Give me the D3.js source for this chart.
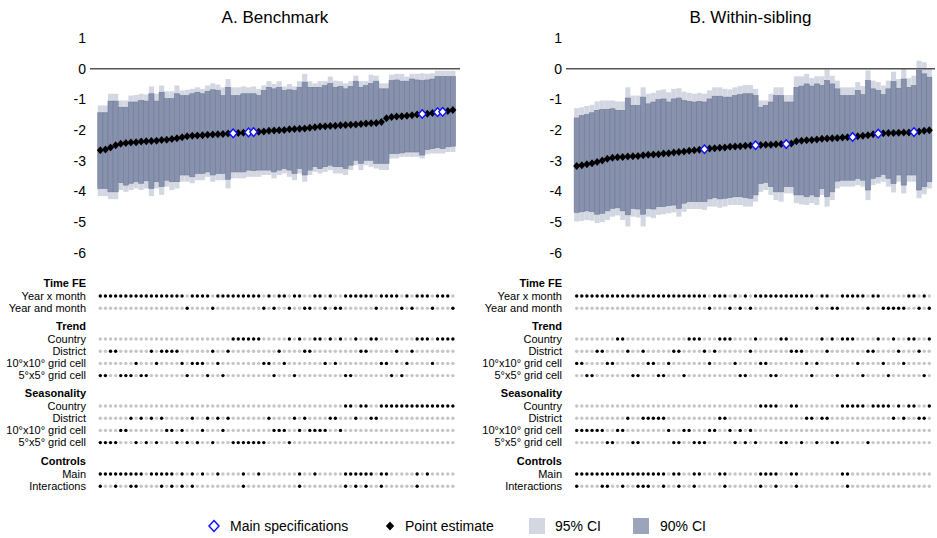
<!DOCTYPE html>
<html>
<head>
<meta charset="utf-8">
<script src="https://cdn.jsdelivr.net/npm/d3@7"></script>
<style>
  body { margin: 0; background: #fff; }
  svg { display: block; font-family: "Liberation Sans", Arial, Helvetica, sans-serif; }
</style>
</head>
<body>
<div id="chart"></div>
<script>
'use strict';

// ---- data ----
const yTicks = [1, 0, -1, -2, -3, -4, -5, -6];

// panel A: benchmark
const estA = [-2.66,-2.64,-2.57,-2.50,-2.45,-2.43,-2.41,-2.40,-2.38,-2.37,
  -2.36,-2.35,-2.33,-2.32,-2.30,-2.27,-2.24,-2.21,-2.19,-2.18,
  -2.17,-2.16,-2.15,-2.14,-2.13,-2.12,-2.11,-2.10,-2.09,-2.08,
  -2.07,-2.06,-2.05,-2.03,-2.02,-2.01,-2.00,-1.98,-1.97,-1.96,
  -1.95,-1.93,-1.91,-1.89,-1.88,-1.87,-1.86,-1.85,-1.84,-1.83,
  -1.82,-1.81,-1.79,-1.78,-1.77,-1.74,-1.62,-1.58,-1.56,-1.55,
  -1.54,-1.52,-1.50,-1.48,-1.47,-1.45,-1.42,-1.41,-1.38,-1.35];
const hi95A = [-1.20,-1.20,-0.82,-0.82,-1.04,-1.04,-0.88,-0.86,-0.82,-0.84,
  -0.58,-0.82,-0.55,-0.74,-0.74,-0.55,-0.71,-0.69,-0.66,-0.61,
  -0.66,-0.55,-0.48,-0.52,-0.61,-0.34,-0.61,-0.61,-0.58,-0.61,
  -0.58,-0.66,-0.55,-0.41,-0.50,-0.41,-0.58,-0.50,-0.58,-0.41,
  -0.17,-0.41,-0.48,-0.41,-0.41,-0.26,-0.39,-0.41,-0.48,-0.41,
  -0.23,-0.41,-0.41,-0.20,-0.23,-0.48,-0.48,-0.20,-0.17,-0.17,
  -0.26,-0.17,-0.17,-0.15,-0.17,-0.15,-0.07,-0.07,-0.07,-0.07];
const hi90A = [-1.44,-1.44,-1.06,-1.06,-1.26,-1.26,-1.09,-1.09,-1.04,-1.06,
  -0.82,-1.06,-0.77,-0.98,-0.98,-0.82,-0.88,-0.88,-0.82,-0.77,
  -0.82,-0.74,-0.69,-0.71,-0.88,-0.61,-0.88,-0.88,-0.82,-0.82,
  -0.82,-0.88,-0.71,-0.61,-0.66,-0.61,-0.71,-0.69,-0.71,-0.61,
  -0.44,-0.61,-0.61,-0.61,-0.55,-0.48,-0.61,-0.58,-0.66,-0.58,
  -0.41,-0.61,-0.55,-0.48,-0.41,-0.66,-0.66,-0.39,-0.37,-0.41,
  -0.41,-0.34,-0.37,-0.39,-0.37,-0.34,-0.26,-0.26,-0.26,-0.26];
const lo90A = [-3.91,-3.91,-4.02,-4.02,-3.72,-3.80,-3.74,-3.69,-3.74,-3.66,
  -3.91,-3.69,-3.85,-3.64,-3.69,-3.69,-3.47,-3.47,-3.53,-3.42,
  -3.42,-3.37,-3.47,-3.42,-3.42,-3.61,-3.37,-3.37,-3.37,-3.31,
  -3.33,-3.31,-3.31,-3.31,-3.37,-3.31,-3.26,-3.31,-3.42,-3.26,
  -3.47,-3.31,-3.20,-3.26,-3.20,-3.15,-3.20,-3.20,-3.26,-3.15,
  -2.99,-3.09,-2.99,-2.99,-3.09,-3.09,-3.09,-2.77,-2.77,-2.75,
  -2.72,-2.72,-2.72,-2.82,-2.64,-2.61,-2.58,-2.61,-2.55,-2.53];
const lo95A = [-4.16,-4.16,-4.26,-4.26,-3.96,-4.02,-3.96,-3.91,-3.96,-3.91,
  -4.16,-3.91,-4.12,-3.85,-3.96,-3.91,-3.69,-3.69,-3.74,-3.64,
  -3.64,-3.53,-3.69,-3.64,-3.64,-3.91,-3.58,-3.58,-3.58,-3.53,
  -3.53,-3.53,-3.47,-3.47,-3.58,-3.47,-3.42,-3.53,-3.64,-3.42,
  -3.69,-3.47,-3.37,-3.42,-3.37,-3.31,-3.42,-3.42,-3.47,-3.31,
  -3.15,-3.31,-3.15,-3.20,-3.26,-3.31,-3.31,-2.93,-2.93,-2.88,
  -2.88,-2.88,-2.88,-2.93,-2.79,-2.77,-2.77,-2.77,-2.72,-2.72];
const mainA = [26, 29, 30, 63, 66, 67];
// X = year x month, Y = year and month
const timeA  = 'XXXXXXXXXXXXXXXXXYXXXXYXXXXXXXXXYXYXXYXXYYXXYXYYXXXXXXYXXXXYXYXXXYXXXY';
// C = country, D = district, T = 10x10 grid cell, 5 = 5x5 grid cell
const trendA = '55DD555T55DTDDDDT5TTT5DT5DCCCCCCTT5DTC5CDDCCTCTC55CDDCCTT5D5TDCCCTCCCC';
const seasA  = '5555TTD5D5D5DTT5T5D5TD5DTD5555555DTTT5DTDTTTTDDTCCDCCDDCCCCCCCCCCCCCCC';
// 0 = none, 1 = main, 2 = main + interactions
const ctrlA  = '2112112210112120202010010000200100000002001000002121210210000020100000';

// panel B: within-sibling
const estB = [-3.18,-3.15,-3.12,-3.09,-3.05,-3.00,-2.94,-2.91,-2.89,-2.88,
  -2.87,-2.86,-2.85,-2.83,-2.81,-2.80,-2.79,-2.77,-2.76,-2.74,
  -2.72,-2.70,-2.68,-2.66,-2.65,-2.63,-2.61,-2.60,-2.58,-2.57,
  -2.55,-2.54,-2.53,-2.52,-2.51,-2.50,-2.49,-2.48,-2.48,-2.47,
  -2.46,-2.46,-2.44,-2.37,-2.35,-2.34,-2.33,-2.31,-2.29,-2.28,
  -2.27,-2.26,-2.25,-2.24,-2.23,-2.21,-2.19,-2.17,-2.14,-2.12,
  -2.11,-2.10,-2.10,-2.09,-2.08,-2.08,-2.07,-2.05,-2.03,-2.01];
const hi95B = [-1.29,-1.26,-1.22,-1.18,-1.07,-1.04,-1.04,-1.04,-1.07,-1.07,
  -0.61,-0.88,-0.88,-0.61,-0.82,-0.79,-0.71,-0.68,-0.77,-0.66,
  -0.64,-0.75,-0.79,-0.82,-0.79,-0.82,-0.71,-0.61,-0.61,-0.66,
  -0.68,-0.61,-0.57,-0.53,-0.53,-0.66,-1.04,-1.04,-0.82,-0.61,
  -0.61,-0.86,-0.86,-0.25,-0.25,-0.17,-0.31,-0.25,-0.25,-0.03,
  -0.23,-0.39,-0.61,-0.61,-0.61,-0.44,-0.57,-0.06,-0.39,-0.44,
  -0.55,-0.39,-0.10,-0.34,-0.01,-0.31,-0.23,0.26,0.21,0.01];
const hi90B = [-1.61,-1.53,-1.50,-1.44,-1.36,-1.33,-1.33,-1.31,-1.36,-1.36,
  -0.96,-1.20,-1.20,-0.93,-1.15,-1.09,-1.01,-0.99,-1.09,-0.99,
  -0.96,-1.04,-1.07,-1.09,-1.07,-1.09,-0.99,-0.90,-0.90,-0.93,
  -0.93,-0.88,-0.85,-0.82,-0.82,-0.88,-1.26,-1.20,-1.09,-0.88,
  -0.88,-1.09,-1.09,-0.61,-0.57,-0.50,-0.57,-0.50,-0.55,-0.39,
  -0.50,-0.66,-0.88,-0.88,-0.88,-0.71,-0.85,-0.39,-0.66,-0.71,
  -0.85,-0.66,-0.42,-0.64,-0.34,-0.61,-0.55,-0.06,-0.17,-0.28];
const lo90B = [-4.69,-4.67,-4.64,-4.67,-4.75,-4.72,-4.64,-4.56,-4.54,-4.64,
  -4.77,-4.56,-4.58,-4.75,-4.56,-4.58,-4.50,-4.50,-4.47,-4.45,
  -4.56,-4.39,-4.34,-4.34,-4.34,-4.34,-4.25,-4.21,-4.25,-4.23,
  -4.21,-4.18,-4.18,-4.21,-4.23,-4.12,-3.75,-3.71,-3.85,-4.02,
  -4.02,-3.85,-3.85,-4.12,-4.12,-4.18,-4.12,-4.18,-3.91,-4.18,
  -4.02,-3.67,-3.64,-3.64,-3.64,-3.58,-3.64,-3.96,-3.58,-3.53,
  -3.45,-3.58,-3.75,-3.47,-3.80,-3.47,-3.47,-3.96,-3.85,-3.69];
const lo95B = [-4.99,-4.97,-4.94,-4.96,-5.04,-5.01,-4.94,-4.83,-4.79,-4.94,
  -5.15,-4.83,-4.86,-5.15,-4.83,-4.88,-4.77,-4.75,-4.72,-4.69,
  -4.83,-4.67,-4.58,-4.58,-4.58,-4.61,-4.50,-4.50,-4.54,-4.50,
  -4.45,-4.45,-4.45,-4.50,-4.50,-4.34,-4.02,-3.96,-4.12,-4.29,
  -4.34,-4.07,-4.07,-4.39,-4.43,-4.45,-4.39,-4.45,-4.12,-4.50,
  -4.29,-3.91,-3.85,-3.85,-3.85,-3.80,-3.85,-4.29,-3.80,-3.75,
  -3.69,-3.85,-4.04,-3.69,-4.07,-3.69,-3.69,-4.23,-4.10,-3.91];
const mainB = [25, 35, 41, 54, 59, 66];
const timeB  = 'XXXXXXXXXXXXXXXXXXXXXXXXXXYXXXYXYXYXXXXXXXXXXXXYXXYYXXXXXYXXYYYYYXXYXY';
const trendB = 'TT55DDTTCCD55DTT55TDD5CCCDTDCCCT55DCTT55CCDDDT5TCDC5CCCT5DDCT5CDTCCD5C';
const seasB  = 'TTTTTT55TTD55DDDDDT55TT555TTDDT5T5T5CCCC55CC5DD5DD55CCCCC5CCCCDCDCCDDC';
const ctrlB  = '2111122112112221120120021000120000002112001200000000120000000000000000';

// row labels of the specification table
const locOptions = [['Country', 'C'], ['District', 'D'], ['10°x10° grid cell', 'T'], ['5°x5° grid cell', '5']];
const specGroups = [
  { title: 'Time FE', field: 'time', rows: [['Year x month', 'X'], ['Year and month', 'Y']] },
  { title: 'Trend', field: 'trend', rows: locOptions },
  { title: 'Seasonality', field: 'seas', rows: locOptions },
  { title: 'Controls', field: 'ctrl', rows: [['Main', c => c !== '0'], ['Interactions', c => c === '2']] }
];

// ---- style / layout ----
const W = 937, H = 538;
const col95 = '#d3d7e2', col90 = '#8892ad', colEdge = '#6f7c9b';
const dotOn = '#000', dotOff = '#c6c6c6', blue = '#1010ff';
const groupTop = [283, 326, 393, 461];
const rowStep = 12.2;

const panels = [
  { title: 'A. Benchmark', est: estA, hi95: hi95A, hi90: hi90A, lo90: lo90A, lo95: lo95A,
    main: mainA, time: timeA, trend: trendA, seas: seasA, ctrl: ctrlA,
    left: 90, right: 460, x0: 97.75, labelX: 86 },
  { title: 'B. Within-sibling', est: estB, hi95: hi95B, hi90: hi90B, lo90: lo90B, lo95: lo95B,
    main: mainB, time: timeB, trend: trendB, seas: seasB, ctrl: ctrlB,
    left: 566, right: 935, x0: 574.15, labelX: 562 }
];

const svg = d3.select('#chart').append('svg')
  .attr('width', W)
  .attr('height', H);

const y = d3.scaleLinear().domain([-6, 1]).range([252.5, 38]);

function diamond(w, h) {
  return `M0,${-h}L${w},0L0,${h}L${-w},0Z`;
}

panels.forEach(p => {
  const n = p.est.length;
  const x = d3.scaleBand().domain(d3.range(n)).range([p.x0, p.x0 + n * 5.11]).padding(0);
  const bw = x.bandwidth();
  const g = svg.append('g');

  // title
  g.append('text')
    .attr('x', (p.left + p.right) / 2)
    .attr('y', 23)
    .attr('text-anchor', 'middle')
    .attr('font-size', '17px')
    .text(p.title);

  // y tick labels
  g.selectAll('.ytick')
    .data(yTicks)
    .enter()
    .append('text')
    .attr('x', p.labelX)
    .attr('y', d => y(d))
    .attr('dy', '0.36em')
    .attr('text-anchor', 'end')
    .attr('font-size', '14px')
    .text(d => d);

  // 95% CI
  g.selectAll('.ci95')
    .data(d3.range(n))
    .enter()
    .append('rect')
    .attr('x', i => x(i))
    .attr('width', bw)
    .attr('y', i => y(p.hi95[i]))
    .attr('height', i => y(p.lo95[i]) - y(p.hi95[i]))
    .attr('fill', col95);

  // 90% CI
  g.selectAll('.ci90')
    .data(d3.range(n))
    .enter()
    .append('rect')
    .attr('x', i => x(i))
    .attr('width', bw)
    .attr('y', i => y(p.hi90[i]))
    .attr('height', i => y(p.lo90[i]) - y(p.hi90[i]))
    .attr('fill', col90)
    .attr('stroke', colEdge)
    .attr('stroke-width', 0.6);

  // zero line
  g.append('line')
    .attr('x1', p.left).attr('x2', p.right)
    .attr('y1', y(0)).attr('y2', y(0))
    .attr('stroke', '#555')
    .attr('stroke-width', 1.5);

  // point estimates
  g.selectAll('.est')
    .data(d3.range(n))
    .enter()
    .append('path')
    .attr('d', diamond(3.5, 4))
    .attr('transform', i => `translate(${x(i) + bw / 2},${y(p.est[i])})`)
    .attr('fill', '#000');

  // main specifications
  g.selectAll('.mainspec')
    .data(p.main)
    .enter()
    .append('path')
    .attr('d', diamond(3.8, 4.3))
    .attr('transform', i => `translate(${x(i) + bw / 2},${y(p.est[i])})`)
    .attr('fill', '#fff')
    .attr('stroke', blue)
    .attr('stroke-width', 1.4);

  // specification table
  specGroups.forEach((grp, gi) => {
    const top = groupTop[gi];
    g.append('text')
      .attr('x', p.labelX)
      .attr('y', top)
      .attr('dy', '0.35em')
      .attr('text-anchor', 'end')
      .attr('font-size', '11px')
      .attr('font-weight', 'bold')
      .text(grp.title);

    grp.rows.forEach((row, ri) => {
      const ry = top + 13 + ri * rowStep;
      const test = typeof row[1] === 'function' ? row[1] : (c => c === row[1]);
      const codes = p[grp.field].split('');

      g.append('text')
        .attr('x', p.labelX)
        .attr('y', ry)
        .attr('dy', '0.35em')
        .attr('text-anchor', 'end')
        .attr('font-size', '11px')
        .text(row[0]);

      g.selectAll(null)
        .data(codes)
        .enter()
        .append('circle')
        .attr('cx', (c, i) => x(i) + bw / 2)
        .attr('cy', ry)
        .attr('r', 1.7)
        .attr('fill', c => test(c) ? dotOn : dotOff);
    });
  });
});

// legend
const legend = svg.append('g').attr('font-size', '14px');
legend.append('path')
  .attr('d', diamond(5, 5.5))
  .attr('transform', 'translate(214,526)')
  .attr('fill', '#fff')
  .attr('stroke', blue)
  .attr('stroke-width', 1.5);
legend.append('text').attr('x', 230).attr('y', 531).text('Main specifications');
legend.append('path')
  .attr('d', diamond(4.2, 4.6))
  .attr('transform', 'translate(390,526)')
  .attr('fill', '#000');
legend.append('text').attr('x', 405).attr('y', 531).text('Point estimate');
legend.append('rect')
  .attr('x', 529).attr('y', 518).attr('width', 16).attr('height', 16)
  .attr('fill', col95);
legend.append('text').attr('x', 555).attr('y', 531).text('95% CI');
legend.append('rect')
  .attr('x', 633).attr('y', 518).attr('width', 16).attr('height', 16)
  .attr('fill', '#9ba4ba');
legend.append('text').attr('x', 660).attr('y', 531).text('90% CI');
</script>
</body>
</html>
